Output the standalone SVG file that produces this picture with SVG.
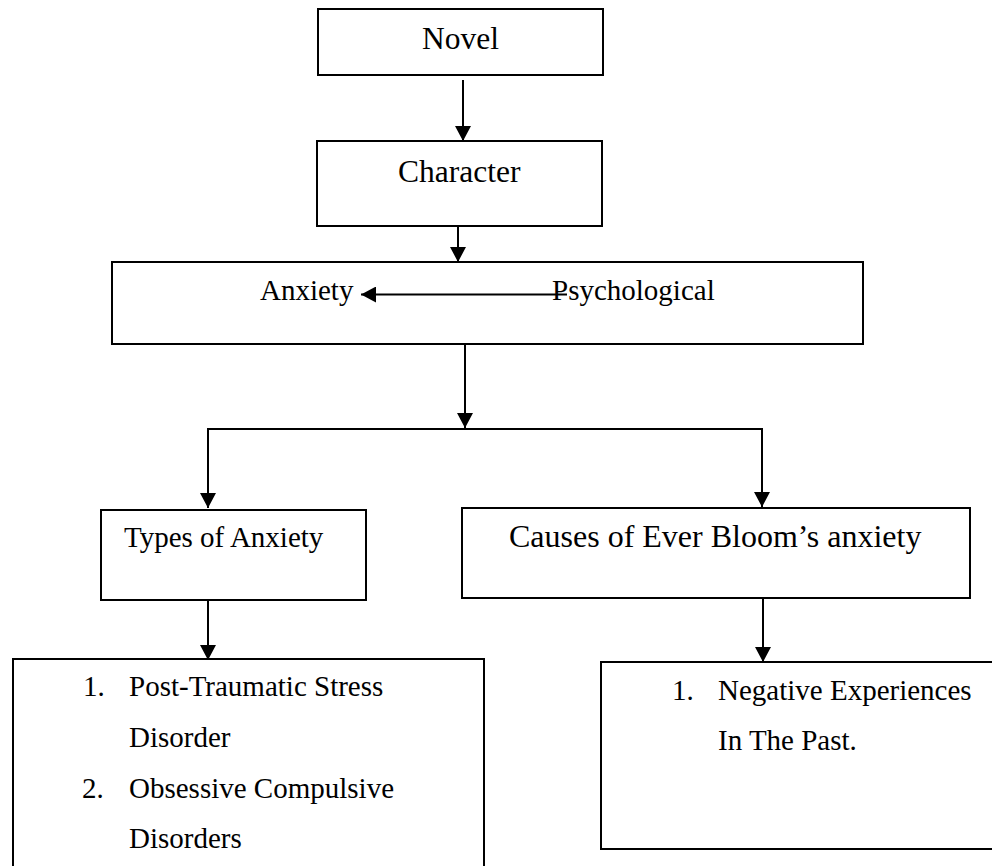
<svg xmlns="http://www.w3.org/2000/svg" width="992" height="866" viewBox="0 0 992 866">
<style>
.box{fill:#fff;stroke:#000;stroke-width:2}
.t{font-family:"Liberation Serif","Times New Roman",serif;fill:#000}
.big{font-size:31.5px}
.sm{font-size:29px}
.c line,.c path{stroke:#000;stroke-width:2;fill:none}
</style>
<defs>
<marker id="ah" markerUnits="userSpaceOnUse" markerWidth="16" markerHeight="16" viewBox="0 0 15 16" refX="15" refY="8" orient="auto">
<path d="M0,0 L15,8 L0,16 Z" fill="#000"/>
</marker>
</defs>
<rect width="992" height="866" fill="#fff"/>
<g id="novel"><rect class="box" x="318" y="9" width="285" height="66"/><text class="t big" x="422" y="49">Novel</text></g>
<g id="character"><rect class="box" x="317" y="141" width="285" height="85"/><text class="t big" x="398" y="182">Character</text></g>
<g id="anxiety-box"><rect class="box" x="112" y="262" width="751" height="82"/>
<text class="t sm" x="260" y="300">Anxiety</text>
<text class="t sm" x="552" y="300">Psychological</text></g>
<g id="types"><rect class="box" x="101" y="510" width="265" height="90"/><text class="t sm" x="124" y="547">Types of Anxiety</text></g>
<g id="causes"><rect class="box" x="462" y="508" width="508" height="90"/><text class="t" font-size="32" x="509" y="547">Causes of Ever Bloom’s anxiety</text></g>
<g id="types-list"><rect class="box" x="13" y="659" width="471" height="230"/>
<text class="t sm" x="83" y="696">1.</text><text class="t sm" x="129" y="696">Post-Traumatic Stress</text>
<text class="t sm" x="129" y="747">Disorder</text>
<text class="t sm" x="82" y="798">2.</text><text class="t sm" x="129" y="798">Obsessive Compulsive</text>
<text class="t sm" x="129" y="848">Disorders</text></g>
<g id="causes-list"><rect class="box" x="601" y="662" width="400" height="187"/>
<text class="t sm" x="672" y="700">1.</text><text class="t sm" x="718" y="700">Negative Experiences</text>
<text class="t sm" x="718" y="750">In The Past.</text></g>
<g id="connectors" class="c">
<line x1="463" y1="80" x2="463" y2="141" marker-end="url(#ah)"/>
<line x1="458" y1="226" x2="458" y2="262" marker-end="url(#ah)"/>
<line x1="567" y1="294.5" x2="361" y2="294.5" marker-end="url(#ah)"/>
<line x1="465" y1="344" x2="465" y2="428" marker-end="url(#ah)"/>
<path d="M208,429 H762"/>
<line x1="208" y1="428" x2="208" y2="508" marker-end="url(#ah)"/>
<line x1="762" y1="428" x2="762" y2="507" marker-end="url(#ah)"/>
<line x1="208" y1="600" x2="208" y2="660" marker-end="url(#ah)"/>
<line x1="763" y1="598" x2="763" y2="662" marker-end="url(#ah)"/>
</g>
</svg>
